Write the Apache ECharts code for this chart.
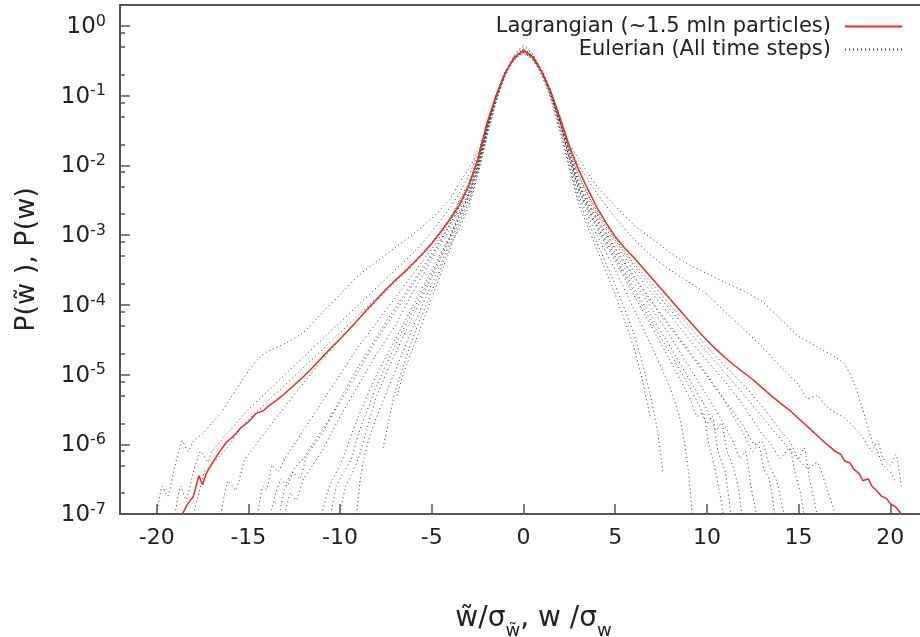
<!DOCTYPE html>
<html><head><meta charset="utf-8">
<script src="https://cdn.jsdelivr.net/npm/echarts@6/dist/echarts.min.js"></script>
<style>html,body{margin:0;padding:0;background:#fff}#c{width:920px;height:637px}</style>
</head><body><div id="c"></div>
<script>
const xTicks = [-20, -15, -10, -5, 0, 5, 10, 15, 20];
const yTicks = [1e-7, 1e-6, 1e-5, 1e-4, 1e-3, 1e-2, 1e-1, 1];
const yMinorTicks = [2e-7,5e-7,8e-7,2e-6,5e-6,8e-6,2e-5,5e-5,8e-5,2e-4,5e-4,8e-4,2e-3,5e-3,8e-3,0.02,0.05,0.08,0.2,0.5,0.8,2];

const lagName = 'Lagrangian (~1.5 mln particles)';
const eulName = 'Eulerian (All time steps)';

const lagX = [-18.6,-18.3,-18.0,-17.7,-17.5,-17.3,-17.0,-16.6,-16.2,-15.8,-15.4,-15.0,-14.6,-14.2,-13.8,-13.4,-13.0,-12.5,-12.0,-11.5,-11.0,-10.5,-10.0,-9.5,-9.0,-8.5,-8.0,-7.5,-7.0,-6.5,-6.0,-5.5,-5.0,-4.5,-4.0,-3.5,-3.0,-2.5,-2.0,-1.5,-1.0,-0.5,0,0.5,1.0,1.5,2.0,2.5,3.0,3.5,4.0,4.5,5.0,5.5,6.0,6.5,7.0,7.5,8.0,8.5,9.0,9.5,10.0,10.5,11.0,11.5,12.0,12.5,13.0,13.5,14.0,14.5,15.0,15.5,16.0,16.5,17.0,17.3,17.5,17.8,18.0,18.3,18.5,18.8,19.0,19.3,19.5,19.8,20.0,20.3,20.6];
const lagP = [1e-7,1.41e-7,1.78e-7,3.55e-7,2.63e-7,3.8e-7,5.25e-7,7.6e-7,1.07e-6,1.32e-6,1.74e-6,2.09e-6,2.75e-6,3.0e-6,3.7e-6,4.4e-6,5.4e-6,7.1e-6,9.3e-6,1.26e-5,1.74e-5,2.4e-5,3.24e-5,4.47e-5,6.2e-5,8.7e-5,1.2e-4,1.66e-4,2.24e-4,2.95e-4,3.98e-4,5.4e-4,7.6e-4,1.12e-3,1.7e-3,2.7e-3,5.0e-3,1.2e-2,4.0e-2,0.10,0.21,0.355,0.447,0.363,0.219,0.112,0.048,0.019,8.7e-3,4.6e-3,2.5e-3,1.51e-3,9.5e-4,6.6e-4,4.8e-4,3.4e-4,2.4e-4,1.7e-4,1.2e-4,8.5e-5,6.0e-5,4.3e-5,3.1e-5,2.3e-5,1.74e-5,1.35e-5,1.07e-5,8.5e-6,6.5e-6,5.0e-6,3.9e-6,3.1e-6,2.34e-6,1.78e-6,1.35e-6,1.02e-6,7.9e-7,7.2e-7,5.8e-7,5.4e-7,4.4e-7,3.8e-7,3.0e-7,3.2e-7,2.5e-7,2.1e-7,1.82e-7,1.66e-7,1.41e-7,1.26e-7,1e-7];

const eul1 = [[-20,1e-7],[-19.7,2.5e-7],[-19.4,1.8e-7],[-19,5e-7],[-18.6,1.12e-6],[-18.3,7.9e-7],[-18,1.12e-6],[-17.5,1.41e-6],[-17,2e-6],[-16.5,2.8e-6],[-16,4.5e-6],[-15.5,7.1e-6],[-15,1.12e-5],[-14.5,1.66e-5],[-14,2.1e-5],[-13,2.8e-5],[-12,4e-5],[-11,7.6e-5],[-10,1.41e-4],[-9,2.63e-4],[-8,4.2e-4],[-7,6.6e-4],[-6,1.05e-3],[-5,1.74e-3],[-4,3.3e-3],[-3.5,5.6e-3],[-3,8.9e-3],[-2.5,1.58e-2],[-2,3.55e-2],[-1.5,8.9e-2],[-1,0.2],[-0.5,0.38],[0,0.525],[0.5,0.398],[1,0.219],[1.5,0.1],[2,0.04],[2.5,0.02],[3,0.0126],[3.5,7.9e-3],[4,5e-3],[5,2.63e-3],[6,1.41e-3],[7,8.9e-4],[8,5.6e-4],[9,3.8e-4],[10,2.82e-4],[11,2.09e-4],[12,1.58e-4],[13,1.12e-4],[14,6.3e-5],[15,3.55e-5],[16,2.51e-5],[17,1.78e-5],[17.5,1.41e-5],[18,7.9e-6],[18.5,3.16e-6],[19,1.12e-6],[19.3,7.9e-7],[19.6,5e-7],[20,4e-7],[20.3,2.82e-7]];
const eul2 = [[-19,1e-7],[-18.7,2.5e-7],[-18.4,1.6e-7],[-18,4e-7],[-17.6,7.9e-7],[-17.2,5.6e-7],[-17,7.9e-7],[-16.5,1.12e-6],[-16,1.58e-6],[-15,3.16e-6],[-14,5.6e-6],[-13,1e-5],[-12,1.78e-5],[-11,3.16e-5],[-10,5.6e-5],[-9,1e-4],[-8,1.78e-4],[-7,3.16e-4],[-6,5.6e-4],[-5,1.12e-3],[-4,2.51e-3],[-3.5,3.98e-3],[-3,7.1e-3],[-2.5,1.41e-2],[-2,3.55e-2],[-1.5,8.9e-2],[-1,0.2],[-0.5,0.372],[0,0.5],[0.5,0.389],[1,0.214],[1.5,0.1],[2,0.0417],[2.5,0.0178],[3,0.01],[3.5,6.3e-3],[4,3.98e-3],[5,1.78e-3],[6,8.9e-4],[7,5e-4],[8,3.16e-4],[9,2.14e-4],[10,1.41e-4],[11,7.9e-5],[12,4.5e-5],[13,2.51e-5],[14,1.32e-5],[15,7.1e-6],[15.5,4.5e-6],[16,5e-6],[16.5,3.55e-6],[17,2.82e-6],[17.5,2.4e-6],[18,1.78e-6],[18.5,1.26e-6],[19,7.9e-7],[19.3,1.12e-6],[19.6,6.3e-7],[20,5e-7],[20.3,7.1e-7],[20.6,2.51e-7]];
const eul3 = [[-18,1e-7],[-17.7,2e-7],[-17.4,4e-7],[-17,5e-7],[-16.5,7.1e-7],[-16,1e-6],[-15.5,1.58e-6],[-15,2.24e-6],[-14,4e-6],[-13,7.1e-6],[-12,1.26e-5],[-11,2.24e-5],[-10,4e-5],[-9,7.1e-5],[-8,1.26e-4],[-7,2.24e-4],[-6,3.98e-4],[-5,7.9e-4],[-4,1.78e-3],[-3.5,3.16e-3],[-3,5.6e-3],[-2.5,1.26e-2],[-2,3.8e-2],[-1.5,9.5e-2],[-1,0.204],[-0.5,0.355],[0,0.468],[0.5,0.372],[1,0.219],[1.5,0.107],[2,0.0447],[2.5,0.0166],[3,7.1e-3],[3.5,3.8e-3],[4,2.24e-3],[5,8.9e-4],[6,3.98e-4],[7,2e-4],[8,1e-4],[9,5e-5],[10,2.51e-5],[11,1.32e-5],[12,7.1e-6],[13,3.55e-6],[14,1.58e-6],[14.5,1.12e-6],[15,6.3e-7],[15.3,8.9e-7],[15.6,3.16e-7],[16,1e-7]];
const eul4 = [[-14.5,1e-7],[-14.2,2.5e-7],[-14,2.24e-7],[-13.7,5e-7],[-13.4,4e-7],[-13,6.3e-7],[-12.5,1e-6],[-12,1.58e-6],[-11,3.98e-6],[-10,1e-5],[-9,2.51e-5],[-8,5.6e-5],[-7,1.26e-4],[-6,2.82e-4],[-5,6.3e-4],[-4,1.58e-3],[-3.5,2.82e-3],[-3,5e-3],[-2.5,1.12e-2],[-2,3.55e-2],[-1.5,0.1],[-1,0.209],[-0.5,0.347],[0,0.457],[0.5,0.363],[1,0.224],[1.5,0.112],[2,0.0447],[2.5,0.0158],[3,6.3e-3],[3.5,3.3e-3],[4,2e-3],[5,7.6e-4],[6,3.16e-4],[7,1.48e-4],[8,7.1e-5],[9,3.3e-5],[10,1.58e-5],[11,7.9e-6],[12,3.55e-6],[13,1.41e-6],[13.5,1e-6],[14,6.3e-7],[14.5,8.9e-7],[14.8,4e-7],[15.1,2e-7],[15.3,1e-7]];
const eul5 = [[-13.8,1e-7],[-13.5,2e-7],[-13.2,3.16e-7],[-12.9,2.51e-7],[-12.5,4.5e-7],[-12,6.3e-7],[-11.5,1e-6],[-11,1.58e-6],[-10,3.98e-6],[-9,1.12e-5],[-8,3.16e-5],[-7,7.9e-5],[-6,2e-4],[-5,5e-4],[-4,1.41e-3],[-3.5,2.51e-3],[-3,4.5e-3],[-2.5,1.07e-2],[-2,3.55e-2],[-1.5,0.1],[-1,0.219],[-0.5,0.347],[0,0.437],[0.5,0.355],[1,0.229],[1.5,0.115],[2,0.0437],[2.5,0.0151],[3,5.6e-3],[3.5,3e-3],[4,1.78e-3],[5,6.6e-4],[6,2.63e-4],[7,1.12e-4],[8,5e-5],[9,2.24e-5],[10,1e-5],[11,3.98e-6],[12,1.41e-6],[12.5,7.9e-7],[12.8,1e-6],[13.1,4.5e-7],[13.4,3.16e-7],[13.7,1e-7]];
const eul6 = [[-13,1e-7],[-12.7,2e-7],[-12.4,1.58e-7],[-12,3.16e-7],[-11.5,5e-7],[-11,7.9e-7],[-10.5,1.41e-6],[-10,2.51e-6],[-9,7.1e-6],[-8,2e-5],[-7,5e-5],[-6,1.58e-4],[-5,4.5e-4],[-4,1.26e-3],[-3.5,2.24e-3],[-3,3.98e-3],[-2.5,1e-2],[-2,3.3e-2],[-1.5,0.1],[-1,0.219],[-0.5,0.339],[0,0.427],[0.5,0.347],[1,0.229],[1.5,0.115],[2,0.0417],[2.5,0.0141],[3,5.25e-3],[3.5,2.75e-3],[4,1.58e-3],[5,5.6e-4],[6,2.14e-4],[7,8.9e-5],[8,3.55e-5],[9,1.32e-5],[10,5e-6],[11,1.78e-6],[11.5,1e-6],[11.8,6.3e-7],[12.1,7.9e-7],[12.4,2.51e-7],[12.7,1e-7]];
const eul7 = [[-11,1e-7],[-10.7,2e-7],[-10.4,3.16e-7],[-10,5e-7],[-9.5,1.12e-6],[-9,2.51e-6],[-8,1e-5],[-7,3.16e-5],[-6,1e-4],[-5,3.16e-4],[-4,1e-3],[-3.5,2e-3],[-3,3.8e-3],[-2.5,9.5e-3],[-2,3.16e-2],[-1.5,9.5e-2],[-1,0.219],[-0.5,0.347],[0,0.437],[0.5,0.347],[1,0.224],[1.5,0.11],[2,0.0398],[2.5,0.0132],[3,4.8e-3],[3.5,2.51e-3],[4,1.41e-3],[5,5e-4],[6,1.78e-4],[7,6.6e-5],[8,2.51e-5],[9,8.9e-6],[10,3.16e-6],[10.5,1.58e-6],[10.8,2e-6],[11.1,7.9e-7],[11.4,5e-7],[11.7,2.51e-7],[11.9,1e-7]];
const eul8 = [[-10,1e-7],[-9.7,2.51e-7],[-9.4,3.55e-7],[-9,6.3e-7],[-8.5,1.78e-6],[-8,5e-6],[-7,2e-5],[-6,7.1e-5],[-5,2.51e-4],[-4,8.9e-4],[-3.5,1.78e-3],[-3,3.55e-3],[-2.5,8.9e-3],[-2,3e-2],[-1.5,9.5e-2],[-1,0.219],[-0.5,0.339],[0,0.417],[0.5,0.339],[1,0.219],[1.5,0.105],[2,0.0372],[2.5,0.0126],[3,4.5e-3],[3.5,2.24e-3],[4,1.26e-3],[5,4.2e-4],[6,1.41e-4],[7,4.8e-5],[8,1.58e-5],[9,5e-6],[9.5,2.51e-6],[9.8,2.82e-6],[10.1,1e-6],[10.4,5e-7],[10.7,2e-7],[10.9,1e-7]];
const eul9 = [[-9.1,1e-7],[-8.9,3.16e-7],[-8.7,6.3e-7],[-8.4,1.26e-6],[-8,2.51e-6],[-7,1.12e-5],[-6,5e-5],[-5,2e-4],[-4,7.9e-4],[-3.5,1.58e-3],[-3,3.16e-3],[-2.5,8.3e-3],[-2,2.82e-2],[-1.5,8.9e-2],[-1,0.209],[-0.5,0.339],[0,0.417],[0.5,0.339],[1,0.214],[1.5,0.1],[2,0.0347],[2.5,0.0112],[3,3.8e-3],[3.5,1.91e-3],[4,1e-3],[5,3.16e-4],[6,8.9e-5],[7,2.51e-5],[8,6.3e-6],[8.5,2.51e-6],[8.8,1e-6],[9,4e-7],[9.2,1e-7]];
const eul10 = [[-6.9,5e-6],[-6.5,1.12e-5],[-6,2.51e-5],[-5,1.26e-4],[-4,6.3e-4],[-3.5,1.41e-3],[-3,2.82e-3],[-2.5,7.6e-3],[-2,2.63e-2],[-1.5,8.3e-2],[-1,0.2],[-0.5,0.331],[0,0.407],[0.5,0.331],[1,0.204],[1.5,0.0933],[2,0.0316],[2.5,0.01],[3,3.3e-3],[3.5,1.58e-3],[4,7.9e-4],[5,1.91e-4],[6,3.98e-5],[6.5,1.41e-5],[7,3.98e-6],[7.3,1.58e-6],[7.6,4e-7]];
const eul11 = [[-7.65,8.9e-7],[-7.3,2.51e-6],[-7,5.6e-6],[-6,3.55e-5],[-5,1.58e-4],[-4,7.1e-4],[-3.5,1.26e-3],[-3,2.51e-3],[-2.5,7.1e-3],[-2,2.51e-2],[-1.5,7.9e-2],[-1,0.191],[-0.5,0.324],[0,0.398],[0.5,0.324],[1,0.195],[1.5,0.0871],[2,0.0282],[2.5,8.9e-3],[3,2.82e-3],[3.5,1.32e-3],[4,6.3e-4],[5,1.41e-4],[6,2.51e-5],[6.5,7.9e-6],[6.9,2.51e-6]];
const eul12 = [[-13.3,1e-7],[-13,2.5e-7],[-12.6,4e-7],[-12.2,3.2e-7],[-11.8,7e-7],[-11,1.4e-6],[-10,4.5e-6],[-9,1.3e-5],[-8,3.5e-5],[-7,9e-5],[-6,2.2e-4],[-5,5.5e-4],[-4,1.45e-3],[-3.5,2.6e-3],[-3,4.6e-3],[-2.5,1.08e-2],[-2,3.5e-2],[-1.5,0.098],[-1,0.215],[-0.5,0.345],[0,0.44],[0.5,0.352],[1,0.226],[1.5,0.113],[2,0.043],[2.5,0.0148],[3,5.5e-3],[3.5,2.9e-3],[4,1.7e-3],[5,6.3e-4],[6,2.5e-4],[7,1.05e-4],[8,4.7e-5],[9,2.1e-5],[10,9.5e-6],[11,4.2e-6],[12,1.8e-6],[12.6,1e-6],[13,1.1e-6],[13.4,5e-7],[13.8,3e-7],[14.2,1e-7]];
const eul13 = [[-10.5,1e-7],[-10.2,2.5e-7],[-9.8,4e-7],[-9.4,6e-7],[-9,1.4e-6],[-8,7e-6],[-7,2.6e-5],[-6,8.5e-5],[-5,2.8e-4],[-4,9.5e-4],[-3.5,1.9e-3],[-3,3.7e-3],[-2.5,9.2e-3],[-2,3.1e-2],[-1.5,9.4e-2],[-1,0.217],[-0.5,0.343],[0,0.43],[0.5,0.343],[1,0.221],[1.5,0.107],[2,0.0385],[2.5,0.0129],[3,4.6e-3],[3.5,2.4e-3],[4,1.35e-3],[5,4.6e-4],[6,1.6e-4],[7,5.6e-5],[8,2e-5],[9,7e-6],[9.6,3.5e-6],[10,2e-6],[10.3,2.5e-6],[10.6,8e-7],[11,4e-7],[11.3,1e-7]];
const eul14 = [[-16.5,1e-7],[-16.1,3e-7],[-15.7,2.2e-7],[-15.2,6e-7],[-14.7,9e-7],[-14,1.6e-6],[-13,3.5e-6],[-12,7.5e-6],[-11,1.6e-5],[-10,3.2e-5],[-9,6.2e-5],[-8,1.15e-4],[-7,2.1e-4],[-6,3.8e-4],[-5,7.5e-4],[-4,1.7e-3],[-3.5,3.0e-3],[-3,5.3e-3],[-2.5,1.2e-2],[-2,3.7e-2],[-1.5,0.097],[-1,0.207],[-0.5,0.352],[0,0.462],[0.5,0.368],[1,0.221],[1.5,0.11],[2,0.046],[2.5,0.0172],[3,7.4e-3],[3.5,3.9e-3],[4,2.1e-3],[5,8.5e-4],[6,3.7e-4],[7,1.75e-4],[8,8.5e-5],[9,4.2e-5],[10,2.1e-5],[11,1.05e-5],[12,5.2e-6],[13,2.5e-6],[14,1.2e-6],[15,6e-7],[15.5,4.5e-7],[16,5.5e-7],[16.5,2.5e-7],[17,1e-7]];

const eulerianCurves = [eul1, eul2, eul3, eul4, eul5, eul6, eul7, eul8, eul9, eul10, eul11, eul12, eul13, eul14];

const FONT = 'DejaVu Sans';
const AX = '#555555';
const TXT = '#222222';
const chart = echarts.init(document.getElementById('c'), null, {renderer: 'canvas'});

const series = eulerianCurves.map(c => ({
  type: 'line', name: eulName, data: c, yAxisIndex: 0,
  symbol: 'none', smooth: 0.15, silent: true, z: 2,
  itemStyle: {color: '#3a3a3a'},
  lineStyle: {color: '#3a3a3a', width: 1, type: [1, 3]}
}));
series.push({
  type: 'line', name: lagName, data: lagX.map((x, i) => [x, lagP[i]]), yAxisIndex: 0,
  symbol: 'none', silent: true, z: 5,
  itemStyle: {color: '#f02a2a'},
  lineStyle: {color: '#f02a2a', width: 1.5}
});

const legendBase = {
  orient: 'vertical', align: 'right', right: 17, padding: 0, itemWidth: 57, itemHeight: 12,
  selectedMode: false,
  itemStyle: {opacity: 0},
  textStyle: {fontFamily: FONT, fontSize: 21, color: TXT, padding: [0, 9, 0, 0]}
};

chart.setOption({
  animation: false,
  backgroundColor: '#ffffff',
  grid: {left: 120, right: -7, top: 5, bottom: 123, containLabel: false, outerBoundsMode: 'none',
         show: true, borderColor: AX, borderWidth: 2, backgroundColor: 'transparent'},
  legend: [
    Object.assign({}, legendBase, {top: 16, data: [lagName]}),
    Object.assign({}, legendBase, {top: 39, data: [eulName]})
  ],
  xAxis: {
    type: 'value', min: -22, max: 22,
    axisLine: {show: false, onZero: false},
    splitLine: {show: false},
    axisTick: {show: true, inside: true, length: 10, customValues: xTicks, lineStyle: {color: AX, width: 1.5}},
    axisLabel: {customValues: xTicks, margin: 13, fontFamily: FONT, fontSize: 22, color: TXT},
    name: '{n|w\u0303/σ}{s|w\u0303}{n|, w /σ}{s|w}',
    nameLocation: 'middle', nameGap: 91,
    nameTextStyle: {
      fontFamily: FONT, color: TXT, padding: [0, 0, 0, 20],
      rich: {
        n: {fontFamily: FONT, fontSize: 28, lineHeight: 32, verticalAlign: 'top', color: TXT},
        s: {fontFamily: FONT, fontSize: 18, lineHeight: 20, verticalAlign: 'top', padding: [17, 0, 0, 0], color: TXT}
      }
    }
  },
  yAxis: [{
    type: 'log', logBase: 10, min: 1e-7, max: 2, position: 'left',
    axisLine: {show: false, onZero: false},
    splitLine: {show: false},
    axisTick: {show: true, inside: true, length: 10, customValues: yTicks, lineStyle: {color: AX, width: 1.5}},
    axisLabel: {
      customValues: yTicks, margin: 14,
      formatter: v => '{b|10}{s|' + Math.round(Math.log10(v)) + '}',
      rich: {
        b: {fontFamily: FONT, fontSize: 23, lineHeight: 25, verticalAlign: 'bottom', color: TXT},
        s: {fontFamily: FONT, fontSize: 16, lineHeight: 17, verticalAlign: 'top', padding: [0, 0, 10, 0], color: TXT}
      }
    },
    name: 'P(w\u0303 ), P(w)',
    nameLocation: 'middle', nameGap: 80, nameRotate: 90,
    nameTextStyle: {fontFamily: FONT, fontSize: 27, color: TXT}
  }, {
    type: 'log', logBase: 10, min: 1e-7, max: 2, position: 'left',
    axisLine: {show: false, onZero: false},
    splitLine: {show: false},
    axisLabel: {show: false},
    axisTick: {show: true, inside: true, length: 5, customValues: yMinorTicks, lineStyle: {color: AX, width: 1.5}}
  }],
  series: series
});
</script></body></html>
